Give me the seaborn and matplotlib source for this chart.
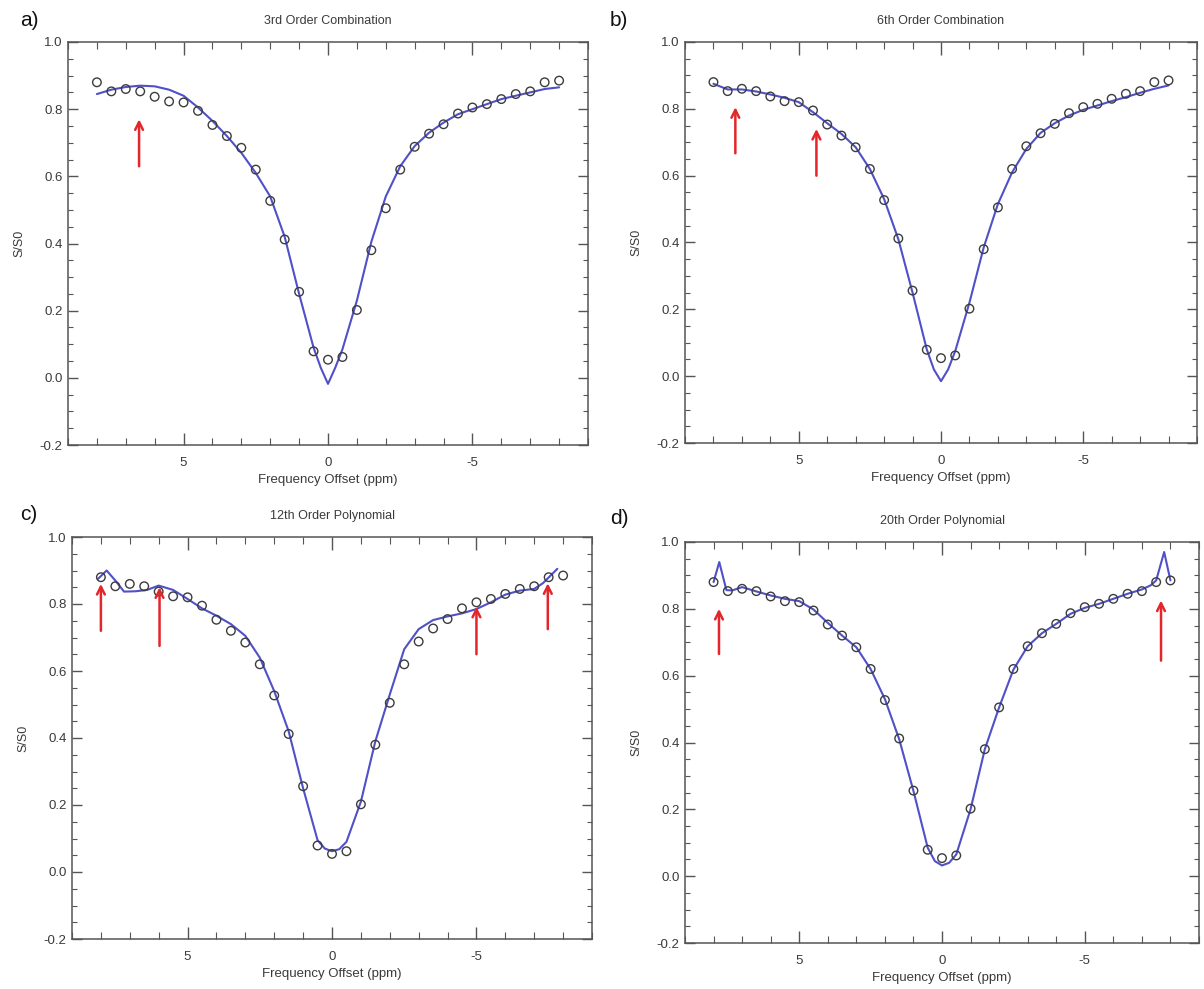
import numpy as np
import matplotlib
matplotlib.use("Agg")
import matplotlib.pyplot as plt
from matplotlib.ticker import MultipleLocator, FormatStrFormatter
import seaborn as sns

# ---------------- data ----------------
offset_ppm = [8.0, 7.5, 7.0, 6.5, 6.0, 5.5, 5.0, 4.5, 4.0, 3.5, 3.0, 2.5, 2.0, 1.5, 1.0, 0.5, 0.0,
              -0.5, -1.0, -1.5, -2.0, -2.5, -3.0, -3.5, -4.0, -4.5, -5.0, -5.5, -6.0, -6.5, -7.0, -7.5, -8.0]
signal = [0.880, 0.853, 0.860, 0.853, 0.837, 0.823, 0.820, 0.795, 0.753, 0.720, 0.685, 0.620, 0.527, 0.412,
          0.256, 0.079, 0.054, 0.062, 0.202, 0.380, 0.505, 0.620, 0.688, 0.727, 0.755, 0.787, 0.805, 0.815,
          0.830, 0.845, 0.853, 0.880, 0.885]

fit_a_x = [8.0, 7.5, 7.0, 6.5, 6.0, 5.5, 5.0, 4.5, 4.0, 3.5, 3.0, 2.5, 2.0, 1.5, 1.0, 0.5, 0.25, 0.0,
           -0.25, -0.5, -1.0, -1.5, -2.0, -2.5, -3.0, -3.5, -4.0, -4.5, -5.0, -5.5, -6.0, -6.5, -7.0, -7.5, -8.0]
fit_a_y = [0.845, 0.858, 0.866, 0.870, 0.868, 0.858, 0.840, 0.805, 0.765, 0.720, 0.670, 0.610, 0.540, 0.420,
           0.250, 0.090, 0.030, -0.018, 0.030, 0.085, 0.230, 0.405, 0.540, 0.630, 0.690, 0.730, 0.760, 0.785,
           0.800, 0.815, 0.830, 0.840, 0.850, 0.860, 0.865]

fit_b_x = [8.0, 7.5, 7.0, 6.5, 6.0, 5.5, 5.0, 4.5, 4.0, 3.5, 3.0, 2.5, 2.0, 1.5, 1.0, 0.5, 0.25, 0.0,
           -0.25, -0.5, -1.0, -1.5, -2.0, -2.5, -3.0, -3.5, -4.0, -4.5, -5.0, -5.5, -6.0, -6.5, -7.0, -7.5, -8.0]
fit_b_y = [0.875, 0.858, 0.858, 0.852, 0.843, 0.833, 0.820, 0.790, 0.757, 0.725, 0.685, 0.620, 0.530, 0.410,
           0.250, 0.080, 0.020, -0.015, 0.020, 0.075, 0.220, 0.385, 0.515, 0.610, 0.680, 0.728, 0.757, 0.780,
           0.797, 0.810, 0.823, 0.835, 0.848, 0.860, 0.870]

fit_c_x = [8.1, 7.8, 7.5, 7.2, 6.8, 6.4, 6.0, 5.5, 5.0, 4.5, 4.0, 3.5, 3.0, 2.5, 2.0, 1.5, 1.0, 0.5, 0.25, 0.0,
           -0.25, -0.5, -1.0, -1.5, -2.0, -2.5, -3.0, -3.5, -4.0, -4.5, -5.0, -5.5, -6.0, -6.5, -7.0, -7.3, -7.8]
fit_c_y = [0.875, 0.900, 0.870, 0.837, 0.838, 0.842, 0.855, 0.842, 0.815, 0.787, 0.765, 0.740, 0.705, 0.640,
           0.540, 0.420, 0.250, 0.095, 0.070, 0.062, 0.068, 0.090, 0.210, 0.390, 0.530, 0.665, 0.725, 0.752,
           0.763, 0.772, 0.785, 0.805, 0.828, 0.840, 0.845, 0.862, 0.905]

fit_d_x = [8.0, 7.8, 7.55, 7.35, 7.0, 6.5, 6.0, 5.5, 5.0, 4.5, 4.0, 3.5, 3.0, 2.5, 2.0, 1.5, 1.0, 0.5, 0.25, 0.0,
           -0.25, -0.5, -1.0, -1.5, -2.0, -2.5, -3.0, -3.5, -4.0, -4.5, -5.0, -5.5, -6.0, -6.5, -7.0, -7.3, -7.5,
           -7.78, -8.0]
fit_d_y = [0.880, 0.940, 0.856, 0.855, 0.865, 0.852, 0.840, 0.830, 0.823, 0.798, 0.758, 0.720, 0.685, 0.620,
           0.530, 0.410, 0.255, 0.085, 0.045, 0.032, 0.040, 0.065, 0.200, 0.380, 0.505, 0.618, 0.688, 0.727,
           0.755, 0.785, 0.803, 0.815, 0.830, 0.845, 0.858, 0.870, 0.885, 0.970, 0.885]

panel_titles = ["3rd Order Combination", "6th Order Combination", "12th Order Polynomial", "20th Order Polynomial"]
panel_letters = ["a)", "b)", "c)", "d)"]

# arrows: (x, tail y, head y)
arrows_a = [(6.54, 0.630, 0.770)]
arrows_b = [(7.23, 0.667, 0.805), (4.38, 0.600, 0.740)]
arrows_c = [(8.0, 0.720, 0.860), (5.97, 0.675, 0.850), (-5.0, 0.650, 0.792), (-7.47, 0.725, 0.862)]
arrows_d = [(7.81, 0.665, 0.800), (-7.67, 0.645, 0.825)]

fits = [(fit_a_x, fit_a_y), (fit_b_x, fit_b_y), (fit_c_x, fit_c_y), (fit_d_x, fit_d_y)]
arrows = [arrows_a, arrows_b, arrows_c, arrows_d]

# ---------------- style ----------------
sns.set_theme(style="ticks")
plt.rcParams["font.family"] = ["Liberation Sans", "DejaVu Sans"]

W, H = 1204, 989
fig = plt.figure(figsize=(W / 100, H / 100), dpi=100)

# axes boxes in pixels: left, right, top, bottom
boxes = [(68, 588, 42, 445), (685, 1197, 42, 443), (72, 592, 537, 939), (685, 1199, 542, 943)]
letter_pos = [(20, 20), (610, 20), (20, 515), (610, 518)]

line_color = "#5050c8"
axis_color = "#555555"
text_color = "#3a3a3a"

for i in range(4):
    l, r, t, b = boxes[i]
    ax = fig.add_axes([l / W, 1 - b / H, (r - l) / W, (b - t) / H])
    fx, fy = fits[i]
    sns.lineplot(x=fx, y=fy, ax=ax, color=line_color, linewidth=1.5, sort=False, estimator=None, zorder=2)
    sns.scatterplot(x=offset_ppm, y=signal, ax=ax, marker="o", s=38, facecolor="none",
                    edgecolor="#3c3c3c", linewidth=1.0, zorder=3)
    for (ax_x, y0, y1) in arrows[i]:
        ax.annotate("", xy=(ax_x, y1), xytext=(ax_x, y0),
                    arrowprops=dict(arrowstyle="->", color="#e3262b", lw=1.8, mutation_scale=14,
                                    shrinkA=0, shrinkB=0), zorder=4)
    ax.set_xlim(9, -9)
    ax.set_ylim(-0.2, 1.0)
    ax.xaxis.set_major_locator(MultipleLocator(5))
    ax.xaxis.set_minor_locator(MultipleLocator(1))
    ax.yaxis.set_major_locator(MultipleLocator(0.2))
    ax.yaxis.set_minor_locator(MultipleLocator(0.05))
    ax.yaxis.set_major_formatter(FormatStrFormatter("%.1f"))
    ax.xaxis.set_major_formatter(FormatStrFormatter("%d"))
    ax.tick_params(axis="both", which="both", direction="in", top=True, right=True,
                   color=axis_color, labelcolor=text_color, labelsize=9.5)
    ax.tick_params(axis="x", which="major", length=9, width=1.0, pad=9)
    ax.tick_params(axis="x", which="minor", length=5, width=0.8)
    ax.tick_params(axis="y", which="major", length=7, width=1.0, pad=4)
    ax.tick_params(axis="y", which="minor", length=3.5, width=0.8)
    for s in ax.spines.values():
        s.set_color(axis_color)
        s.set_linewidth(1.1)
    ax.set_title(panel_titles[i], fontsize=9, color=text_color, pad=13)
    ax.set_xlabel("Frequency Offset (ppm)", fontsize=9.5, color=text_color, labelpad=3)
    ax.set_ylabel("S/S0", fontsize=9, color=text_color, labelpad=10)
    lx, ly = letter_pos[i]
    fig.text(lx / W, 1 - ly / H, panel_letters[i], fontsize=15, color="#111111", ha="left", va="center")

fig.savefig("out.png", dpi=100)
